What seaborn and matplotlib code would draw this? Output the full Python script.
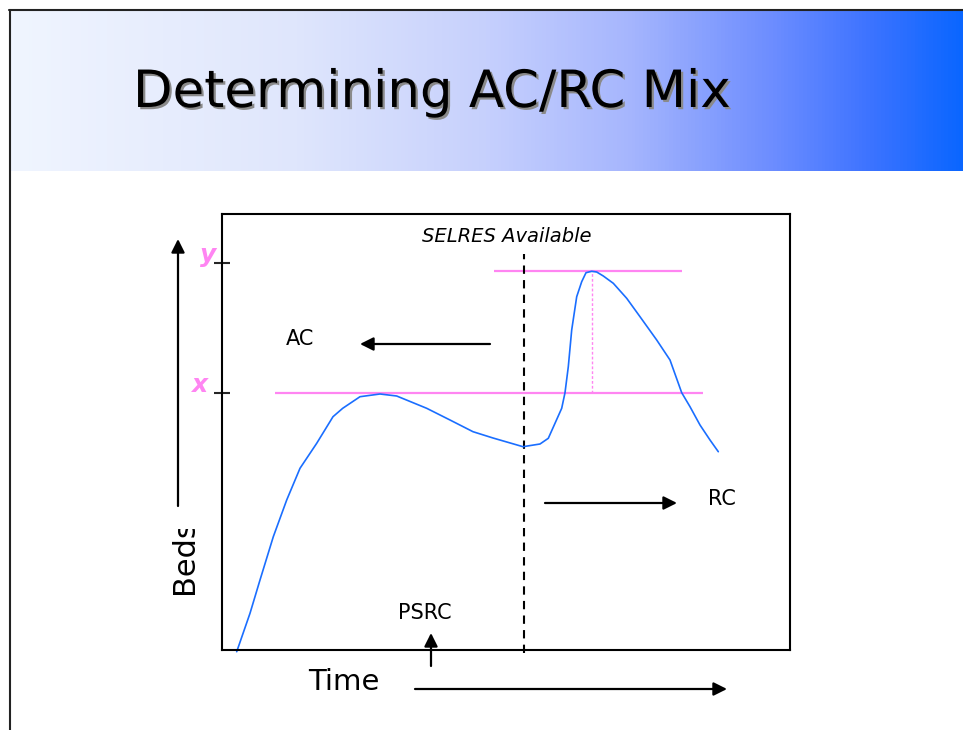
import numpy as np
import matplotlib
matplotlib.use("Agg")
import matplotlib.pyplot as plt
import matplotlib.patheffects as pe
from matplotlib.colors import LinearSegmentedColormap
from matplotlib.patches import Rectangle
import seaborn as sns

sns.set_style("white")
plt.rcParams['font.family'] = ['DejaVu Sans']
plt.rcParams['text.color'] = 'black'

# ---- data (arbitrary units) ----
time_pts = [14.7, 28, 38, 51.3, 64.7, 78, 94.7, 111, 120.7, 138, 158, 174.7, 204.7, 228,
            251, 271, 301, 318, 326.3, 339.7, 343, 346.3, 349.7, 354.7, 359.7, 364, 369.7,
            374.7, 381.3, 391.3, 404.7, 418, 434.7, 448, 459.7, 468, 478, 488, 496.3]
beds_pts = [-1.7, 36.7, 70, 113.3, 150, 181.7, 206.7, 233.3, 241.7, 253.3, 256, 254, 241.7, 230,
            218.3, 212, 203.3, 206, 211.7, 241.7, 257.3, 283.3, 320, 353.3, 368.3, 377.3, 378.7,
            378, 374, 366.7, 351.7, 333.3, 310, 290, 257.3, 243.3, 225, 210, 198.3]

x_level = 257.3          # lower pink line (x beds)
y_level = 379.3          # upper pink line (y beds)
x_line_span = [53, 481]
y_line_span = [272, 460]
tick_levels = [257, 387]
selres_time = 301.5
peak_time = 369.7

pink = '#ff85f2'
blue = '#1a6eff'

fig = plt.figure(figsize=(9.63, 7.30), dpi=100)

# ---- slide background (pixel coordinates) ----
bg = fig.add_axes([0, 0, 1, 1])
bg.set_xlim(0, 963)
bg.set_ylim(730, 0)
bg.axis('off')

grad = LinearSegmentedColormap.from_list('banner', [
    (0.0, '#f0f5ff'), (0.3, '#dfe6fc'), (0.5, '#c6d0fd'), (0.65, '#a6b6fd'),
    (0.8, '#6d8dff'), (0.9, '#3f74ff'), (1.0, '#0a66ff')])
bg.imshow(np.linspace(0, 1, 256)[None, :], cmap=grad, aspect='auto',
          extent=[10, 963, 171, 10], zorder=0)
bg.plot([9, 963], [10, 10], color='#222222', lw=1.5)
bg.plot([9.5, 9.5], [10, 730], color='#222222', lw=1.5)

bg.text(133, 107, 'Determining AC/RC Mix', fontsize=37, color='black',
        ha='left', va='baseline',
        path_effects=[pe.withSimplePatchShadow(offset=(1.6, -1.6), shadow_rgbFace='#8a8a8a', alpha=1)])

arrow = dict(arrowstyle='-|>', mutation_scale=20, lw=1.6, color='black', shrinkA=0, shrinkB=0)
bg.annotate('', xy=(178, 239), xytext=(178, 506), arrowprops=arrow)
bg.annotate('', xy=(727, 689), xytext=(415, 689), arrowprops=arrow)

bg.text(184, 594, 'Beds', fontsize=22, rotation=90, ha='center', va='bottom', zorder=3)
# the end of the label is cut off in the original slide
bg.add_patch(Rectangle((165, 508), 35, 21, facecolor='white', edgecolor='none', zorder=6))
bg.text(308, 690, 'Time', fontsize=21, ha='left', va='baseline')

bg.text(208, 255, 'y', fontsize=18, color=pink, fontweight='bold', fontstyle='italic',
        ha='center', va='center')
bg.text(199, 385, 'x', fontsize=18, color=pink, fontweight='bold', fontstyle='italic',
        ha='center', va='center')

# ---- chart box ----
ax = fig.add_axes([222 / 963, 80 / 730, 568 / 963, 436 / 730])
ax.patch.set_alpha(0)
ax.set_xlim(0, 568)
ax.set_ylim(0, 436)
for s in ax.spines.values():
    s.set_visible(True)
    s.set_color('black')
    s.set_linewidth(1.5)
ax.set_xticks([])
ax.set_yticks(tick_levels)
ax.tick_params(axis='y', direction='inout', length=12, width=1.5, labelleft=False, left=True)

ax.hlines(x_level, *x_line_span, color=pink, lw=1.6)
ax.hlines(y_level, *y_line_span, color=pink, lw=1.6)
ax.vlines(peak_time, x_level, y_level, color=pink, lw=1.0, linestyles=(0, (2, 1.5)))
ax.vlines(selres_time, -3, 396, color='black', lw=1.5, linestyles=(0, (4, 3)), clip_on=False)

sns.lineplot(x=time_pts, y=beds_pts, ax=ax, sort=False, estimator=None, color=blue, lw=1.2)
ax.lines[-1].set_clip_on(False)

ax.text(285, 414, 'SELRES Available', fontsize=14, fontstyle='italic', ha='center', va='center')
ax.text(78, 311, 'AC', fontsize=15, ha='center', va='center')
ax.text(500, 151, 'RC', fontsize=15, ha='center', va='center')
ax.text(203, 37, 'PSRC', fontsize=15, ha='center', va='center')
ax.annotate('', xy=(138, 306), xytext=(268, 306), arrowprops=arrow)
ax.annotate('', xy=(455, 147), xytext=(323, 147), arrowprops=arrow)
ax.annotate('', xy=(209, 17), xytext=(209, -16), arrowprops=arrow, annotation_clip=False)

fig.savefig('out.png', dpi=100)
